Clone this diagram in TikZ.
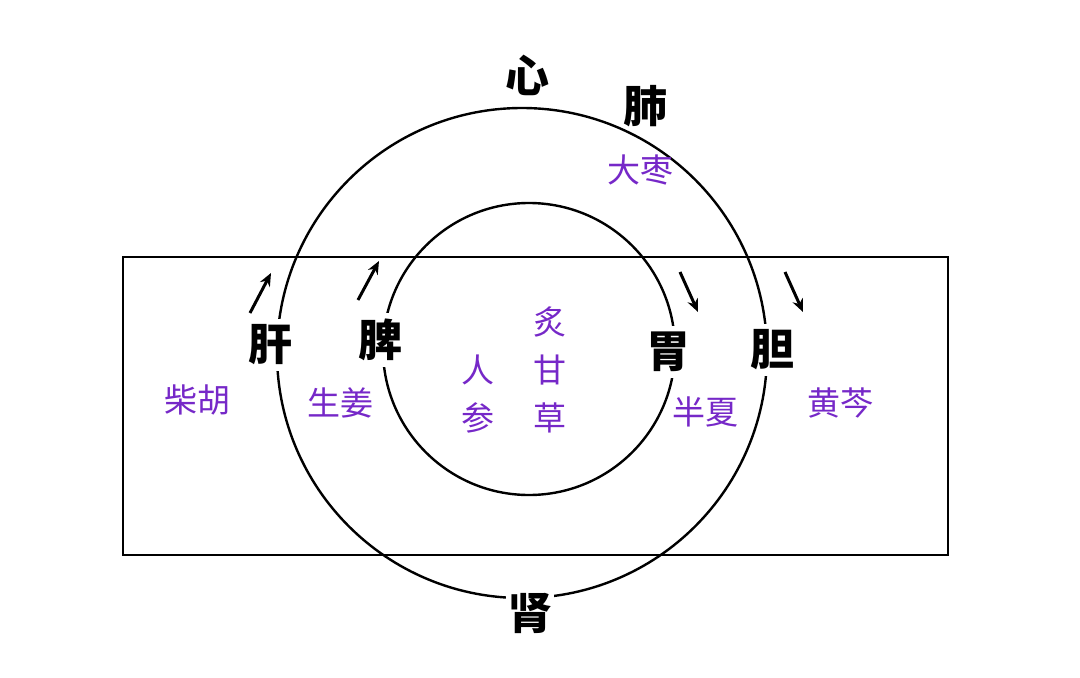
\documentclass[tikz,border=0pt]{standalone}
\usepackage{fontspec}
\usetikzlibrary{arrows.meta}
\newfontfamily\cjk{Noto Sans CJK SC}
\definecolor{herb}{RGB}{118,40,200}
\begin{document}
\begin{tikzpicture}[x=1pt,y=-1pt,
  organ/.style={font=\cjk\bfseries\fontsize{44}{48}\selectfont, inner sep=1pt},
  organw/.style={organ, fill=white, inner ysep=6pt, inner xsep=2pt},
  herbt/.style={font=\cjk\fontsize{33}{36}\selectfont, text=herb, inner sep=1pt},
  line/.style={line width=2.4pt},
  arr/.style={line width=3pt,-{Stealth[length=13pt,width=11pt]}}]
\useasboundingbox[fill=white] (0,0) rectangle (1080,678);
\draw[line] (123,257) rectangle (948,555);
\draw[line] (522,353) circle (245);
\draw[line] (529,349) circle (146);
\node[organ] (xin) at (527,75) {心};
\node[organ] (fei) at (645,106) {肺};
\node[herbt] (dz) at (640,170) {大枣};
\node[organw] (gan) at (270,345) {肝};
\node[organw] (pi) at (380,340) {脾};
\node[organw] (wei) at (668,352) {胃};
\node[organw] (dan) at (772,350) {胆};
\node[organw] (shen) at (530,613) {肾};
\node[herbt] (ch) at (197,400) {柴胡};
\node[herbt] (sj) at (340,403) {生姜};
\node[herbt] (ren) at (478,370) {人};
\node[herbt] (can) at (478,418) {参};
\node[herbt] (zhi) at (550,322) {炙};
\node[herbt] (gancao) at (550,370) {甘};
\node[herbt] (cao) at (550,418) {草};
\node[herbt] (bx) at (705,412) {半夏};
\node[herbt] (hq) at (840,403) {黄芩};
\coordinate (a1) at (250,313); \coordinate (a2) at (271,273);
\coordinate (b1) at (358,300); \coordinate (b2) at (379,261);
\coordinate (c1) at (680,272); \coordinate (c2) at (698,312);
\coordinate (d1) at (785,272); \coordinate (d2) at (803,312);
\draw[arr] (a1) -- (a2);
\draw[arr] (b1) -- (b2);
\draw[arr] (c1) -- (c2);
\draw[arr] (d1) -- (d2);
\end{tikzpicture}
\end{document}
